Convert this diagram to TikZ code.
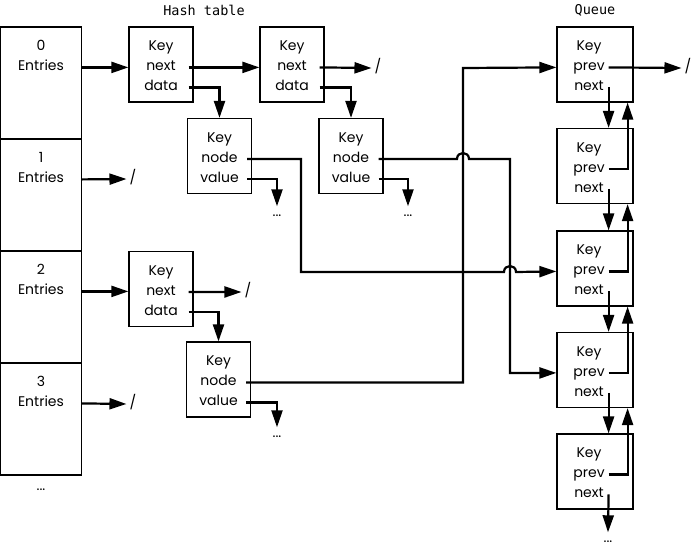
\documentclass[tikz,border=0pt]{standalone}
\usepackage{fontspec}
\setmainfont{Poppins}
\setmonofont{DejaVu Sans Mono}
\usetikzlibrary{arrows.meta}

\begin{document}
\begin{tikzpicture}[x=1pt,y=-1pt,
    box/.style={draw, line width=1.2pt, inner sep=0pt, minimum width=64pt, minimum height=75pt},
    qbox/.style={box, minimum width=76pt},
    cell/.style={draw, line width=1.2pt, inner sep=0pt, minimum width=81pt, minimum height=112pt},
    field/.style={inner sep=0pt, text height=10pt, text depth=3pt, font=\fontsize{14}{16}\selectfont},
    title/.style={font=\ttfamily\fontsize{13.5}{15}\selectfont},
    wire/.style={line width=2.2pt},
    link/.style={wire, -{Triangle[length=17pt,width=11pt]}}]
  \useasboundingbox (0,0) rectangle (694,549);

  % the table itself
  \foreach \i in {0,...,3}{
    \node[cell] (c\i) at (41,83+112*\i) {};
    \node[field] (c\i-1) at ([yshift=-21pt]c\i.north) {\i};
    \node[field] (c\i-2) at ([yshift=-41pt]c\i.north) {Entries};
  }
  \node[field] (c-dots) at (41,487) {...};

  \node[title] (ht) at (204,10) {Hash table};
  \node[title] (qt) at (595,10) {Queue};

  % hash entries and their data
  \node[box] (h1) at (161,64.5) {};
  \node[box] (h2) at (292,64.5) {};
  \node[box] (h3) at (161,289) {};
  \node[box] (v1) at (219.5,156) {};
  \node[box] (v2) at (351,156) {};
  \node[box] (v3) at (218.5,379.5) {};
  \foreach \b in {h1,h2,h3}{
    \node[field] (\b-1) at ([yshift=-21pt]\b.north) {Key};
    \node[field] (\b-2) at ([yshift=-41pt]\b.north) {next};
    \node[field] (\b-3) at ([yshift=-61pt]\b.north) {data};
  }
  \foreach \b in {v1,v2,v3}{
    \node[field] (\b-1) at ([yshift=-21pt]\b.north) {Key};
    \node[field] (\b-2) at ([yshift=-41pt]\b.north) {node};
    \node[field] (\b-3) at ([yshift=-61pt]\b.north) {value};
  }

  % queue
  \foreach \i/\y in {1/64.5,2/166,3/268.5,4/370,5/471.5}{
    \node[qbox] (q\i) at (595,\y) {};
    \node[field] (q\i-1) at ([xshift=-6pt,yshift=-21pt]q\i.north) {Key};
    \node[field] (q\i-2) at ([xshift=-6pt,yshift=-41pt]q\i.north) {prev};
    \node[field] (q\i-3) at ([xshift=-6pt,yshift=-61pt]q\i.north) {next};
  }

  % ends of lists
  \node[field] (s1) at (133,179) {/};
  \node[field] (s2) at (378,68) {/};
  \node[field] (s3) at (248,292) {/};
  \node[field] (s4) at (133,404) {/};
  \node[field] (s5) at (688,68) {/};
  \node[field] (d1) at (277,213) {...};
  \node[field] (d2) at (408,213) {...};
  \node[field] (d3) at (277,434) {...};
  \node[field] (d4) at (608,539) {...};

  % table to entries
  \draw[link] (c0.east |- c0-2) -- (h1.west |- c0-2);
  \draw[link] (c1.east |- c1-2) -- ([xshift=-3pt]s1.west);
  \draw[link] (c2.east |- c2-2) -- (h3.west |- c2-2);
  \draw[link] (c3.east |- c3-2) -- ([xshift=-3pt]s4.west);

  % next and data
  \draw[link] ([xshift=-5pt]h1.east |- h1-2) -- (h2.west |- h1-2);
  \draw[link] ([xshift=-5pt]h1.east |- h1-3) -| (v1.north);
  \draw[link] ([xshift=-5pt]h2.east |- h2-2) -- ([xshift=-3pt]s2.west);
  \draw[link] ([xshift=-5pt]h2.east |- h2-3) -| (v2.north);
  \draw[link] ([xshift=-5pt]h3.east |- h3-2) -- ([xshift=-3pt]s3.west);
  \draw[link] ([xshift=-5pt]h3.east |- h3-3) -| (v3.north);

  % values
  \draw[link] ([xshift=-5pt]v1.east |- v1-3) -| (d1.north);
  \draw[link] ([xshift=-5pt]v2.east |- v2-3) -| (d2.north);
  \draw[link] ([xshift=-5pt]v3.east |- v3-3) -| (d3.north);

  % nodes into the queue
  \draw[link] ([xshift=-5pt]v1.east |- v1-2) -| (301,272) -- (504,272)
    .. controls (504,264) and (516,264) .. (516,272) -- (q3.west |- q3-2);
  \draw[link] ([xshift=-5pt]v2.east |- v2-2) -- (457,159)
    .. controls (457,151) and (469,151) .. (469,159) -| (510,373) -- (q4.west |- q4-2);
  \draw[link] ([xshift=-5pt]v3.east |- v3-2) -| (463,68) -- (q1.west |- q1-2);

  % prev and next in the queue
  \draw[link] ([xshift=-25pt]q1.east |- q1-2) -- ([xshift=-3pt]s5.west);
  \foreach \i/\j in {1/2,2/3,3/4,4/5}{
    \draw[link] ([xshift=-25pt]q\i.east |- q\i-3) -- ([xshift=-25pt]q\j.north east);
    \draw[link] ([xshift=-25pt]q\j.east |- q\j-2) -| ([xshift=-6pt]q\i.south east);
  }
  \draw[link] ([xshift=-25pt]q5.east |- q5-3) -- (d4.north);
\end{tikzpicture}
\end{document}
